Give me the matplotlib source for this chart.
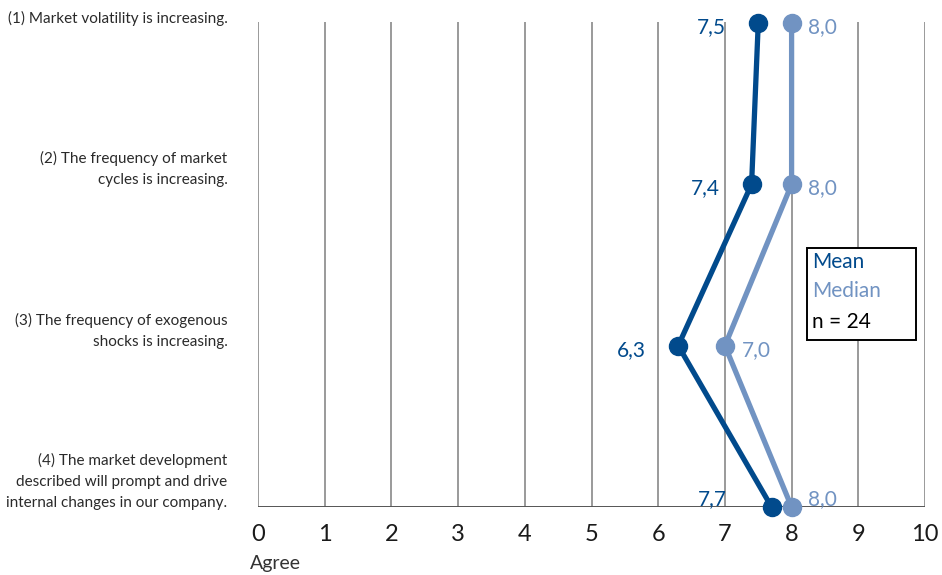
import matplotlib
matplotlib.use("Agg")
import matplotlib.pyplot as plt
from matplotlib.patches import Rectangle

statements = [
    "(1) Market volatility is increasing.",
    "(2) The frequency of market\ncycles is increasing.",
    "(3) The frequency of exogenous\nshocks is increasing.",
    "(4) The market development\ndescribed will prompt and drive\ninternal changes in our company.",
]
mean_values = [7.5, 7.4, 6.3, 7.7]
median_values = [8.0, 8.0, 7.0, 8.0]
x_ticks = [0, 1, 2, 3, 4, 5, 6, 7, 8, 9, 10]
n_respondents = 24

MEAN_COLOR = "#014a8c"
MEDIAN_COLOR = "#7193c2"
GRID_COLOR = "#9a9a9a"
LABEL_FONT = ["Lato", "DejaVu Sans"]
NUM_FONT = ["Lato", "DejaVu Sans"]

fig = plt.figure(figsize=(9.42, 5.75), dpi=100)
ax = fig.add_axes([258 / 942, 1 - 507 / 575, (925 - 258) / 942, (507 - 22) / 575])

rows = list(range(1, len(statements) + 1))
ax.set_xlim(0, 10)
ax.set_ylim(4, 0.994)

for s in ax.spines.values():
    s.set_visible(False)
for x in x_ticks:
    ax.axvline(x, color=GRID_COLOR, lw=1.4, zorder=1)
ax.axhline(4, color="#555555", lw=1.4, zorder=1)

ax.plot(median_values, rows, color=MEDIAN_COLOR, lw=3.8, marker="o", ms=13,
        clip_on=False, zorder=3, solid_capstyle="round")
ax.plot(mean_values, rows, color=MEAN_COLOR, lw=3.8, marker="o", ms=13,
        clip_on=False, zorder=4, solid_capstyle="round")

def fmt(v):
    return f"{v:.1f}".replace(".", ",")

last = len(rows)
for r, m, md in zip(rows, mean_values, median_values):
    dy = 6 if r == last else -3
    dx_mean = -32 if r == last else -23
    ax.annotate(fmt(m), (m, r), xytext=(dx_mean, dy), textcoords="offset points",
                ha="right", va="center", color=MEAN_COLOR, fontsize=15, family=NUM_FONT)
    ax.annotate(fmt(md), (md, r), xytext=(12, dy), textcoords="offset points",
                ha="left", va="center", color=MEDIAN_COLOR, fontsize=15, family=NUM_FONT)

for r, txt in zip(rows, statements):
    ax.annotate(txt, (0, r), xytext=(-22, 0), textcoords="offset points",
                ha="right", va="baseline", fontsize=11, family=LABEL_FONT,
                color="#2a2a2a", multialignment="right", linespacing=1.65,
                annotation_clip=False)

ax.set_xticks(x_ticks)
ax.set_xticklabels([str(t) for t in x_ticks], family=NUM_FONT, fontsize=17, color="#1a1a1a")
ax.tick_params(axis="x", length=0, pad=12)
ax.set_yticks([])
fig.text(250 / 942, 1 - 563 / 575, "Agree", ha="left", va="center",
         fontsize=14, family=NUM_FONT, color="#333333")

# legend box
fig.patches.append(Rectangle((807 / 942, 1 - 340 / 575), 109 / 942, 92 / 575,
                             transform=fig.transFigure, fill=True, facecolor="white",
                             edgecolor="black", lw=1.4, zorder=5))
legend_items = [("Mean", MEAN_COLOR, 262), ("Median", MEDIAN_COLOR, 291),
                (f"n = {n_respondents}", "black", 322)]
for txt, col, ypx in legend_items:
    fig.text(812 / 942, 1 - ypx / 575, txt, ha="left", va="center",
             fontsize=15, family=NUM_FONT, color=col, zorder=6)

fig.savefig("out.png", dpi=100)
